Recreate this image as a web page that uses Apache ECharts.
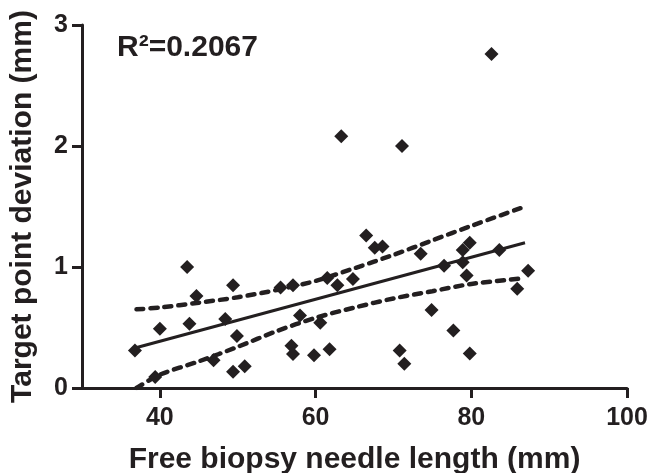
<!DOCTYPE html>
<html>
<head>
<meta charset="utf-8">
<script src="https://cdn.jsdelivr.net/npm/echarts@6/dist/echarts.min.js"></script>
<style>
html,body{margin:0;padding:0;background:#fff;}
#chart{width:651px;height:473px;}
</style>
</head>
<body>
<div id="chart"></div>
<script>
// Data
var needleLength = [36.8, 39.4, 40.0, 43.5, 43.8, 44.7, 46.9, 48.4, 49.4, 49.4, 49.9, 50.9,
  55.5, 57.1, 56.9, 57.1, 58.0, 59.8, 60.6, 61.5, 61.8, 62.8, 63.3, 64.8, 66.5, 67.6, 68.6,
  70.8, 71.1, 71.4, 73.5, 74.9, 76.5, 77.7, 78.9, 78.9, 79.4, 79.8, 79.8, 82.6, 83.6, 85.9, 87.3];
var deviation = [0.31, 0.09, 0.49, 1.00, 0.53, 0.76, 0.23, 0.57, 0.85, 0.135, 0.43, 0.18,
  0.83, 0.85, 0.35, 0.28, 0.60, 0.27, 0.54, 0.91, 0.32, 0.85, 2.08, 0.90, 1.26, 1.16, 1.17,
  0.31, 2.00, 0.20, 1.11, 0.645, 1.01, 0.475, 1.14, 1.04, 0.93, 1.20, 0.285, 2.76, 1.14, 0.82, 0.97];

var fitX = [36.8, 86.9];
var fitY = [0.33, 1.20];

var ciX = [37, 40, 45, 50, 55, 60, 65, 70, 75, 80, 86.5];
var ciUpper = [0.65, 0.665, 0.705, 0.75, 0.81, 0.885, 0.99, 1.10, 1.22, 1.34, 1.49];
var ciLower = [0.0, 0.11, 0.22, 0.34, 0.47, 0.58, 0.665, 0.74, 0.80, 0.86, 0.905];

var xTicks = [40, 60, 80, 100];
var yTicks = [0, 1, 2, 3];
var r2Label = 'R\u00B2=0.2067';
var xTitle = 'Free biopsy needle length (mm)';
var yTitle = 'Target point deviation (mm)';

function zip(a, b) { return a.map(function (v, i) { return [v, b[i]]; }); }

var ink = '#231f20';
var font = '"Liberation Sans", Arial, Helvetica, sans-serif';

var chart = echarts.init(document.getElementById('chart'), null, {renderer: 'canvas'});
chart.setOption({
  animation: false,
  backgroundColor: '#ffffff',
  grid: {left: 82, right: 24, top: 25, bottom: 85, containLabel: false, outerBoundsMode: 'none'},
  xAxis: {
    type: 'value', min: 30, max: 100,
    name: xTitle, nameLocation: 'middle', nameGap: 57,
    nameTextStyle: {fontFamily: font, fontWeight: 'bold', fontSize: 30, color: ink},
    axisLine: {show: true, lineStyle: {color: ink, width: 3}},
    axisTick: {show: true, length: 10, lineStyle: {color: ink, width: 3}, customValues: xTicks},
    axisLabel: {customValues: xTicks, margin: 18, fontFamily: font, fontWeight: 'bold', fontSize: 25, color: ink},
    splitLine: {show: false}
  },
  yAxis: {
    type: 'value', min: 0, max: 3, interval: 1,
    name: yTitle, nameLocation: 'middle', nameGap: 44,
    nameTextStyle: {fontFamily: font, fontWeight: 'bold', fontSize: 30, color: ink},
    axisLine: {show: true, lineStyle: {color: ink, width: 3}},
    axisTick: {show: true, length: 10, lineStyle: {color: ink, width: 3}, customValues: yTicks},
    axisLabel: {customValues: yTicks, margin: 14, fontFamily: font, fontWeight: 'bold', fontSize: 25, color: ink},
    splitLine: {show: false}
  },
  graphic: [{
    type: 'text', left: 117, top: 33,
    style: {text: r2Label, fontFamily: font, fontWeight: 'bold', fontSize: 30, fill: ink}
  }],
  series: [
    {
      type: 'line', data: zip(ciX, ciUpper), smooth: 0.3, symbol: 'none', z: 2,
      lineStyle: {color: ink, width: 4.5, type: [7, 7], cap: 'round'}
    },
    {
      type: 'line', data: zip(ciX, ciLower), smooth: 0.3, symbol: 'none', z: 2,
      lineStyle: {color: ink, width: 4.5, type: [7, 7], cap: 'round'}
    },
    {
      type: 'line', data: zip(fitX, fitY), symbol: 'none', z: 2,
      lineStyle: {color: ink, width: 3}
    },
    {
      type: 'scatter', data: zip(needleLength, deviation), symbol: 'diamond', symbolSize: 14, z: 3,
      itemStyle: {color: ink, opacity: 1}
    }
  ]
});
</script>
</body>
</html>
